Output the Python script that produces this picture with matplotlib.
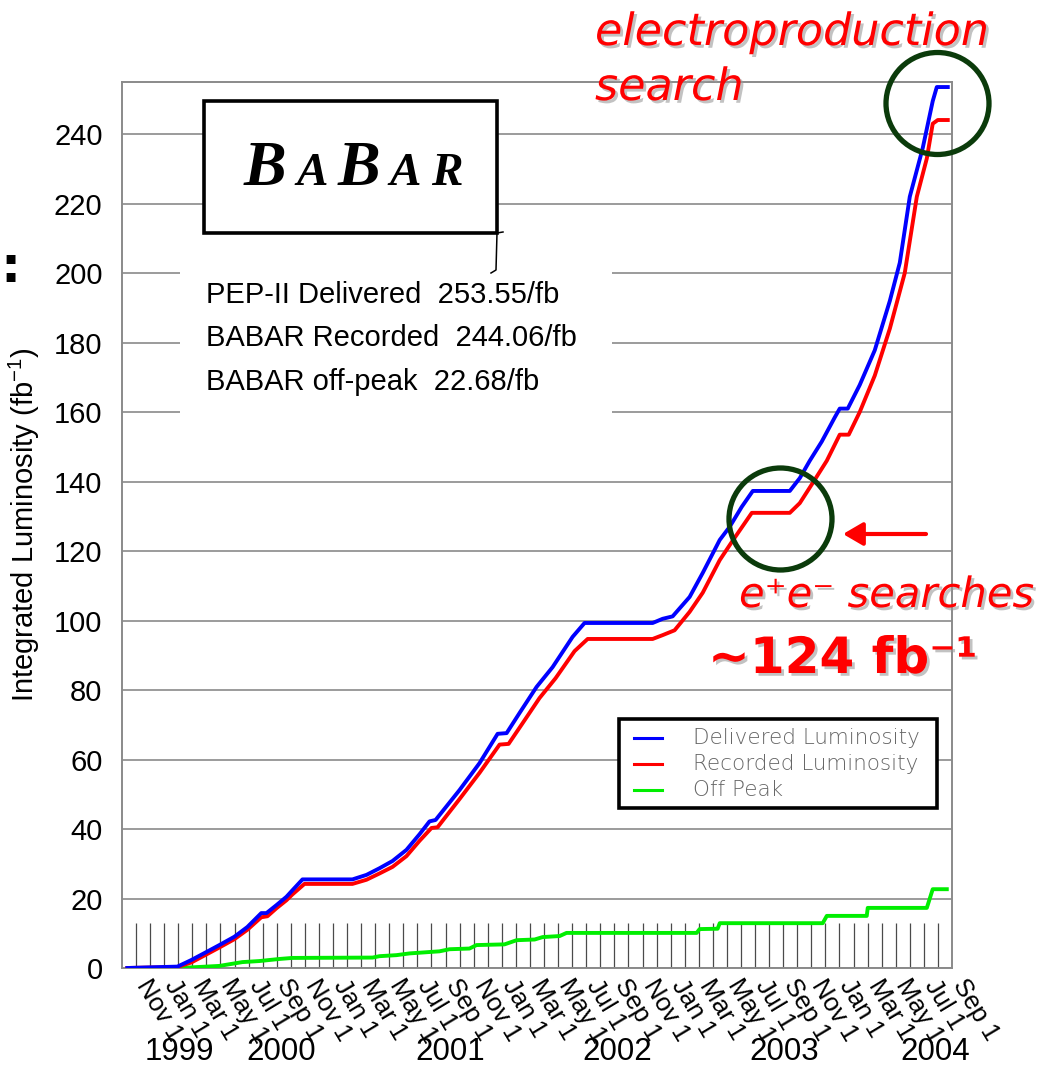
import matplotlib
matplotlib.use('Agg')
import matplotlib.pyplot as plt
import matplotlib.patheffects as pe
from matplotlib.patches import Rectangle, Ellipse, FancyArrowPatch
from matplotlib.lines import Line2D
from matplotlib.offsetbox import TextArea, HPacker, AnnotationBbox

plt.rcParams['font.family'] = ['Liberation Sans', 'DejaVu Sans']

# time axis: months counted from 1 Nov 1999
month_names = ['Nov', 'Jan', 'Mar', 'May', 'Jul', 'Sep'] * 5
label_months = list(range(0, 59, 2))
years = ['1999', '2000', '2001', '2002', '2003', '2004']
year_pos = [3.1, 10.3, 22.3, 34.2, 46.1, 56.8]

delivered_t = [-0.62, 2.94, 3.93, 5.00, 5.92, 6.99, 7.91, 8.90, 9.27, 9.98, 10.69,
               11.12, 11.83, 15.38, 16.38, 17.30, 18.23, 19.22, 20.15, 20.86, 21.29,
               22.99, 24.42, 25.70, 26.34, 27.26, 28.47, 29.61, 31.03, 31.88, 36.72,
               37.43, 38.14, 39.35, 40.28, 41.49, 42.20, 43.05, 43.84, 46.47, 47.18,
               47.89, 48.74, 49.67, 50.02, 50.59, 51.44, 52.51, 53.58, 54.29, 55.00,
               55.92, 56.63, 56.92, 57.70]
delivered = [0.0, 0.4, 2.3, 4.6, 6.6, 9.0, 11.8, 15.8, 15.8, 18.1, 20.5,
             22.4, 25.5, 25.5, 26.8, 28.7, 30.8, 34.0, 38.5, 42.2, 42.6,
             51.2, 59.0, 67.4, 67.6, 73.4, 80.9, 86.6, 95.3, 99.3, 99.3,
             100.5, 101.2, 106.8, 113.7, 123.2, 127.0, 132.7, 137.3, 137.3, 141.0,
             146.0, 151.5, 158.5, 161.0, 161.0, 167.8, 177.8, 192.0, 203.0, 222.0,
             236.0, 249.5, 253.55, 253.55]

recorded_t = [-0.62, 2.94, 3.93, 5.00, 5.92, 6.99, 7.91, 8.90, 9.34, 9.98, 10.69,
              11.12, 11.97, 15.38, 16.38, 17.30, 18.23, 19.22, 20.15, 21.00, 21.43,
              22.99, 24.42, 25.84, 26.48, 27.40, 28.68, 29.82, 31.17, 32.10, 36.72,
              37.43, 38.28, 39.35, 40.28, 41.49, 42.41, 43.77, 46.47, 47.18, 48.10,
              49.10, 50.02, 50.66, 51.44, 52.51, 53.58, 54.64, 55.50, 56.21, 56.63,
              56.99, 57.70]
recorded = [0.0, 0.3, 1.6, 3.9, 5.9, 8.3, 11.0, 14.6, 14.9, 17.2, 19.5,
            21.2, 24.2, 24.2, 25.4, 27.2, 29.1, 32.2, 36.6, 40.3, 40.5,
            48.6, 56.2, 64.3, 64.5, 70.0, 77.7, 83.4, 91.2, 94.7, 94.7,
            95.8, 97.2, 102.5, 108.0, 117.4, 123.0, 131.0, 131.0, 133.8, 139.6,
            146.0, 153.5, 153.5, 160.0, 170.5, 184.0, 200.0, 222.0, 233.0, 243.0,
            244.06, 244.06]

offpeak_t = [3.08, 5.92, 7.56, 8.76, 10.19, 11.12, 16.81, 17.30, 18.51, 19.44, 20.15,
             21.57, 22.28, 23.70, 24.20, 26.19, 27.05, 28.33, 28.90, 30.11, 30.60,
             39.85, 40.06, 41.34, 41.49, 48.81, 49.10, 51.94, 52.01, 56.21, 56.63, 57.63]
offpeak = [0.0, 0.6, 1.7, 2.0, 2.6, 2.9, 3.0, 3.4, 3.7, 4.2, 4.4,
           4.8, 5.4, 5.6, 6.6, 6.8, 8.0, 8.2, 8.9, 9.2, 10.1,
           10.1, 11.2, 11.3, 12.9, 12.9, 15.0, 15.0, 17.3, 17.3, 22.68, 22.68]

stat_names = ['PEP-II Delivered', 'BABAR Recorded', 'BABAR off-peak']
stat_values = [253.55, 244.06, 22.68]
legend_labels = ['Delivered Luminosity', 'Recorded Luminosity', 'Off Peak']

W, H = 1047, 1067
fig = plt.figure(figsize=(W / 100, H / 100), dpi=100)
ax = fig.add_axes([122 / W, 99 / H, 830 / W, 886 / H])
tr = fig.dpi_scale_trans


def at(x, y):
    # pixel position from the top-left corner -> inches for dpi_scale_trans
    return x / 100, (H - y) / 100


ax.set_xlim(-1, 58)
ax.set_ylim(0, 255)
ax.set_yticks(range(0, 241, 20))
ax.yaxis.grid(True, color='#8a8a8a', lw=1.2)
ax.set_axisbelow(True)
for sp in ax.spines.values():
    sp.set_color('#8a8a8a')
    sp.set_linewidth(1.4)

# monthly markers along the bottom
ax.vlines(range(0, 58), 0, 13, color='#4a4a4a', lw=0.9, zorder=1)

l_off, = ax.plot(offpeak_t, offpeak, color='#00ee00', lw=2.8, zorder=3)
l_rec, = ax.plot(recorded_t, recorded, color='#ff0000', lw=2.8, zorder=3)
l_del, = ax.plot(delivered_t, delivered, color='#0000ff', lw=2.8, zorder=3)

ax.tick_params(axis='y', length=0, pad=14, labelsize=21)
ax.set_xticks(label_months, labels=[f'{m} 1' for m in month_names])
ax.tick_params(axis='x', length=0, pad=12, labelsize=18.5)
for lab in ax.get_xticklabels():
    lab.set_rotation(-59)
    lab.set_ha('left')
    lab.set_va('baseline')
    lab.set_rotation_mode('anchor')

# year names under the month labels, baseline kept inside the canvas
for yr, pos in zip(years, year_pos):
    ax.text(pos, -0.1035, yr, transform=ax.get_xaxis_transform(),
            ha='center', va='baseline', fontsize=22.5)

ax.set_ylabel(r'Integrated Luminosity (fb$^{\mathregular{-1}}$)', fontsize=21)
ax.yaxis.set_label_coords(-0.0964, 0.5)

# BaBar logo box
fig.add_artist(Rectangle(at(204, 233), 2.93, 1.32, transform=tr, fc='white',
                         ec='black', lw=2.6, zorder=5))
logo_font = dict(family='Liberation Serif', weight='bold', style='italic')
big = dict(logo_font, size=46)
small = dict(logo_font, size=34)
logo = HPacker(children=[TextArea('B', textprops=big), TextArea('A', textprops=small),
                         TextArea('B', textprops=big), TextArea('A', textprops=small),
                         TextArea('R', textprops=small)],
               align='baseline', pad=0, sep=7)
ab = AnnotationBbox(logo, at(353, 170), xycoords=tr, frameon=False,
                    box_alignment=(0.5, 0.5), zorder=6)
fig.add_artist(ab)
bx, by = zip(at(503, 232), at(497, 233), at(496, 270), at(491, 273))
fig.add_artist(Line2D(bx, by, transform=tr, color='black', lw=1.1, zorder=6))

# totals block
fig.add_artist(Rectangle(at(180, 420), 4.32, 1.76, transform=tr, fc='white',
                         ec='none', zorder=4))
for i, (name, val) in enumerate(zip(stat_names, stat_values)):
    x, y = at(206, 303 + 43.5 * i)
    fig.text(x, y, f'{name}  {val:.2f}/fb', transform=tr, fontsize=21,
             ha='left', va='baseline', zorder=6)

# legend box
fig.add_artist(Rectangle(at(619, 808), 3.18, 0.89, transform=tr, fc='white',
                         ec='black', lw=2.6, zorder=5))
for i, (line, lab) in enumerate(zip([l_del, l_rec, l_off], legend_labels)):
    yy = (H - (738 + 26 * i)) / 100
    fig.add_artist(Line2D([6.34, 6.62], [yy, yy], transform=tr,
                          color=line.get_color(), lw=2.2, zorder=6))
    fig.text(6.93, yy, lab, transform=tr, fontsize=15.5, color='#666666',
             family='DejaVu Sans', fontweight=200, va='center', zorder=6)

# highlighted regions
for cx, cy in [(937.5, 103.5), (780.5, 519)]:
    fig.add_artist(Ellipse(at(cx, cy), 1.03, 1.02, transform=tr, fill=False,
                           ec='#0b3b0b', lw=3.8, zorder=7))

fig.add_artist(FancyArrowPatch(at(926, 534), at(843, 534), transform=tr,
                               arrowstyle='-|>,head_length=0.6,head_width=0.35',
                               mutation_scale=20, color='#ff0000', lw=3,
                               shrinkA=0, shrinkB=0, zorder=7))

shadow = [pe.SimplePatchShadow(offset=(2, -2), shadow_rgbFace='#9a9a9a', alpha=0.6),
          pe.Normal()]
note = dict(transform=tr, color='#ff0000', family='DejaVu Sans', style='oblique',
            ha='left', va='baseline', zorder=8, path_effects=shadow)
fig.text(*at(595, 45), 'electroproduction', fontsize=32, **note)
fig.text(*at(595, 100), 'search', fontsize=32, **note)
fig.text(*at(739, 607), 'e\u207ae\u207b searches', fontsize=30, **note)
fig.text(*at(708, 673), '~124 fb\u207b\u00b9', transform=tr, color='#ff0000',
         family='DejaVu Sans', fontweight='bold', fontsize=36, ha='left',
         va='baseline', zorder=8, path_effects=shadow)

fig.text(*at(0, 268), ':', transform=tr, family='DejaVu Sans', fontweight='bold',
         fontsize=36, ha='left', va='center')

fig.savefig('out.png', dpi=100)
